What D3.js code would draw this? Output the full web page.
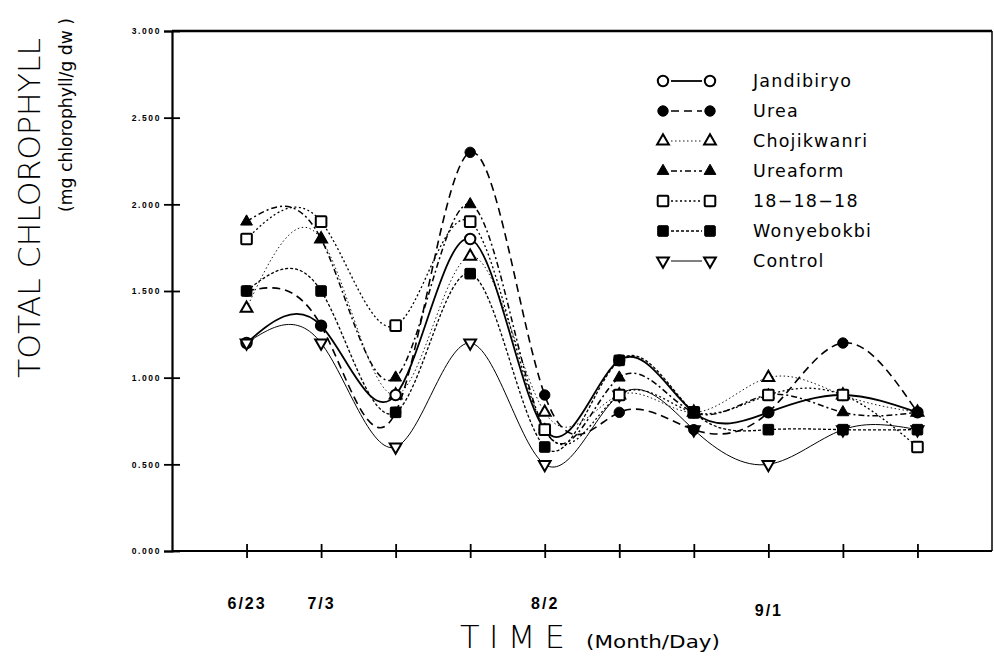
<!DOCTYPE html>
<html><head><meta charset="utf-8">
<script src="https://cdn.jsdelivr.net/npm/d3@7"></script>
<style>body{margin:0;background:#fff} svg{display:block}</style>
</head><body>
<svg id="c" width="994" height="659"></svg>
<script>
// ---- data ----
const dateIndex = [0,1,2,3,4,5,6,7,8,9];
const xTickLabels = ["6/23","7/3","","","8/2","","","9/1","",""];
const yTicks = [0,0.5,1,1.5,2,2.5,3];
const seriesNames = ["Jandibiryo","Urea","Chojikwanri","Ureaform","18\u221218\u221218","Wonyebokbi","Control"];
const jandibiryo  = [1.2,1.3,0.9,1.8,0.7,1.1,0.8,0.8,0.9,0.8];
const urea        = [1.5,1.3,0.8,2.3,0.9,0.8,0.7,0.8,1.2,0.8];
const chojikwanri = [1.4,1.8,0.9,1.7,0.8,0.9,0.8,1.0,0.9,0.8];
const ureaform    = [1.9,1.8,1.0,2.0,0.7,1.0,0.8,0.9,0.8,0.8];
const t181818     = [1.8,1.9,1.3,1.9,0.7,0.9,0.8,0.9,0.9,0.6];
const wonyebokbi  = [1.5,1.5,0.8,1.6,0.6,1.1,0.8,0.7,0.7,0.7];
const control     = [1.2,1.2,0.6,1.2,0.5,0.9,0.7,0.5,0.7,0.7];
const seriesValues = [jandibiryo,urea,chojikwanri,ureaform,t181818,wonyebokbi,control];
// order in which the marker layers are stacked (bottom first)
const markerOrder = [2,0,6,3,1,4,5];

// ---- styles ----
const styles = [
  {sym:"circle",   fill:false, dash:null,        w:1.8},
  {sym:"circle",   fill:true,  dash:"8,5",       w:1.6},
  {sym:"triangle", fill:false, dash:"1.5,2.5",   w:0.9},
  {sym:"triangle", fill:true,  dash:"6,3,2,3",   w:1.5},
  {sym:"square",   fill:false, dash:"2,2.5",     w:1.3},
  {sym:"square",   fill:true,  dash:"3,2",       w:1.3},
  {sym:"tridown",  fill:false, dash:null,        w:1.0}
];

const svg = d3.select("#c");
const x = d3.scaleLinear().domain([-1,10]).range([172,992]);
const y = d3.scaleLinear().domain([0,3]).range([551,31]);

// frame
svg.append("line").attr("x1",172).attr("x2",992).attr("y1",31).attr("y2",31).attr("stroke","#000").attr("stroke-width",2.5);
svg.append("line").attr("x1",992).attr("x2",992).attr("y1",31).attr("y2",551).attr("stroke","#000").attr("stroke-width",1.5);

// axes
const ya = svg.append("g").attr("transform","translate(172,0)")
  .call(d3.axisLeft(y).tickValues(yTicks).tickFormat(d3.format(".3f")).tickSize(8).tickPadding(4));
ya.select(".domain").attr("stroke-width",2.2);
ya.selectAll(".tick line").attr("x1",-8).attr("x2",8).attr("stroke-width",1.8);
ya.selectAll(".tick text").attr("fill","#000").attr("font-family","Liberation Sans, Arial, sans-serif").attr("font-weight","bold")
  .attr("font-size",8.5).attr("letter-spacing",1.6).attr("x",-11);

const xa = svg.append("g").attr("transform","translate(0,551)")
  .call(d3.axisBottom(x).tickValues(dateIndex).tickFormat((d,i)=>xTickLabels[i]).tickSize(7).tickSizeOuter(0));
xa.select(".domain").attr("stroke-width",2.2).attr("d","M172,0H992");
xa.selectAll(".tick line").attr("y1",-7).attr("y2",7).attr("stroke-width",1.8);
xa.selectAll(".tick text").attr("fill","#000").attr("font-family","Liberation Sans, Arial, sans-serif").attr("font-weight","bold")
  .attr("font-size",16).attr("letter-spacing",2).attr("y",(d,i)=> xTickLabels[i]==="9/1" ? 54 : 47);

// lines
const line = d3.line().x((d,i)=>x(dateIndex[i])).y(d=>y(d)).curve(d3.curveNatural);
seriesValues.forEach((vals,k)=>{
  svg.append("path").attr("d",line(vals)).attr("fill","none").attr("stroke","#000")
    .attr("stroke-width",styles[k].w).attr("stroke-dasharray",styles[k].dash);
});

// markers
function marker(g, st){
  let p;
  if(st.sym==="circle") p = g.append("circle").attr("r",5.2);
  else if(st.sym==="square") p = g.append("rect").attr("x",-5.3).attr("y",-5.3).attr("width",10.6).attr("height",10.6).attr("rx",1);
  else if(st.sym==="triangle") p = g.append("path").attr("d",d3.symbol(d3.symbolTriangle,60)());
  else p = g.append("path").attr("d",d3.symbol(d3.symbolTriangle,60)()).attr("transform","rotate(180)");
  p.attr("fill",st.fill?"#000":"#fff").attr("stroke","#000").attr("stroke-width",st.fill?1:2);
}
markerOrder.forEach(k=>{
  seriesValues[k].forEach((v,i)=>{
    const g = svg.append("g").attr("transform",`translate(${x(dateIndex[i])},${y(v)})`);
    marker(g, styles[k]);
  });
});

// legend
const lg = svg.append("g");
seriesNames.forEach((name,k)=>{
  const yy = 81 + k*30;
  lg.append("line").attr("x1",671).attr("x2",702).attr("y1",yy).attr("y2",yy).attr("stroke","#000")
    .attr("stroke-width",styles[k].w).attr("stroke-dasharray",styles[k].dash);
  marker(lg.append("g").attr("transform",`translate(663,${yy})`), styles[k]);
  marker(lg.append("g").attr("transform",`translate(710,${yy})`), styles[k]);
  lg.append("text").attr("x",753).attr("y",yy).attr("dy","0.36em").text(name)
    .attr("font-family","DejaVu Sans, sans-serif").attr("font-size",17.5).attr("letter-spacing",1.2);
});

// axis titles
svg.append("text").attr("transform","translate(40,208) rotate(-90)").attr("text-anchor","middle")
  .attr("font-family","DejaVu Sans, sans-serif").attr("font-weight",200).attr("font-size",31)
  .attr("textLength",340).attr("lengthAdjust","spacingAndGlyphs").text("TOTAL CHLOROPHYLL");
svg.append("text").attr("transform","translate(72,115) rotate(-90)").attr("text-anchor","middle")
  .attr("font-family","DejaVu Sans, sans-serif").attr("font-size",17)
  .attr("textLength",194).attr("lengthAdjust","spacingAndGlyphs").text("(mg chlorophyll/g dw )");
svg.append("text").attr("x",460).attr("y",648)
  .attr("font-family","DejaVu Sans, sans-serif").attr("font-weight",200).attr("font-size",32)
  .attr("textLength",105).attr("lengthAdjust","spacing").text("TIME");
svg.append("text").attr("x",586).attr("y",648)
  .attr("font-family","DejaVu Sans, sans-serif").attr("font-size",18)
  .attr("textLength",134).attr("lengthAdjust","spacingAndGlyphs").text("(Month/Day)");
</script>
</body></html>
